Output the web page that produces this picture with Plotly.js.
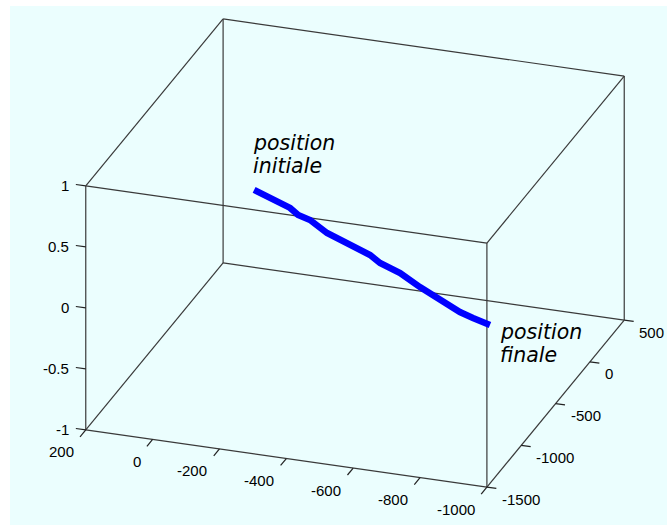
<!DOCTYPE html>
<html>
<head>
<meta charset="utf-8">
<script src="https://cdn.plot.ly/plotly-3.0.1.min.js"></script>
<style>
html,body{margin:0;padding:0;background:#ffffff;}
#chart{width:667px;height:525px;}
</style>
</head>
<body>
<div id="chart"></div>
<script>
// ---- data: trajectory in the z = 0 plane ----
const trajX = [9, -51, -87, -127, -164, -207, -281, -357, -445, -489, -565, -649, -731, -811, -859, -920];
const trajY = [22, -40, -67, -116, -179, -215, -328, -405, -499, -569, -646, -766, -875, -973, -1017, -1066];
const trajZ = [0, 0, 0, 0, 0, 0, 0, 0, 0, 0, 0, 0, 0, 0, 0, 0];

// ---- axes ----
const xRange = [-1000, 200];
const yRange = [-1500, 500];
const zRange = [-1, 1];
const xTicks = [200, 0, -200, -400, -600, -800, -1000];
const yTicks = [500, 0, -500, -1000, -1500];
const zTicks = [-1, -0.5, 0, 0.5, 1];

const labelStart = ['position', 'initiale'];
const labelEnd = ['position', 'finale'];

// ---- 3D view (orthographic, MATLAB-like view(az, el), x axis reversed) ----
const view = {az: 18.9, el: 24.6};
const box = {x: 1, y: 1, z: 0.633};
const ca = Math.cos(view.az * Math.PI / 180), sa = Math.sin(view.az * Math.PI / 180);
const ce = Math.cos(view.el * Math.PI / 180), se = Math.sin(view.el * Math.PI / 180);
function norm(v, r, s) { return ((v - (r[0] + r[1]) / 2) / (r[1] - r[0])) * s; }
function proj(x, y, z) {
  const nx = -norm(x, xRange, box.x);   // reversed x direction
  const ny = norm(y, yRange, box.y);
  const nz = norm(z, zRange, box.z);
  return [nx * ca + ny * sa, -nx * sa * se + ny * ca * se + nz * ce];
}
function projLine(xs, ys, zs) {
  const u = [], v = [];
  for (let i = 0; i < xs.length; i++) {
    if (xs[i] === null) { u.push(null); v.push(null); continue; }
    const p = proj(xs[i], ys[i], zs[i]); u.push(p[0]); v.push(p[1]);
  }
  return [u, v];
}

// box edges
const bx = [], by = [], bz = [];
function edge(p, q) { bx.push(p[0], q[0], null); by.push(p[1], q[1], null); bz.push(p[2], q[2], null); }
for (const y of yRange) for (const z of zRange) edge([xRange[0], y, z], [xRange[1], y, z]);
for (const x of xRange) for (const z of zRange) edge([x, yRange[0], z], [x, yRange[1], z]);
for (const x of xRange) for (const y of yRange) edge([x, y, zRange[0]], [x, y, zRange[1]]);

// ticks (pointing outward from the box)
const tx = [], ty = [], tz = [];
const xTickLen = 0.0417 * (yRange[1] - yRange[0]);
const yTickLen = 0.0235 * (xRange[1] - xRange[0]);
const zTickLen = 0.0247 * (xRange[1] - xRange[0]);
for (const t of xTicks) { tx.push(t, t, null); ty.push(yRange[0], yRange[0] - xTickLen, null); tz.push(zRange[0], zRange[0], null); }
for (const t of yTicks) { tx.push(xRange[0], xRange[0] - yTickLen, null); ty.push(t, t, null); tz.push(zRange[0], zRange[0], null); }
for (const t of zTicks) { tx.push(xRange[1], xRange[1] + zTickLen, null); ty.push(yRange[0], yRange[0], null); tz.push(t, t, null); }

const boxP = projLine(bx, by, bz);
const tickP = projLine(tx, ty, tz);
const trajP = projLine(trajX, trajY, trajZ);

const traces = [
  {type: 'scatter', mode: 'lines', x: boxP[0], y: boxP[1], line: {color: '#3a3a3a', width: 1.2}, hoverinfo: 'skip', connectgaps: false},
  {type: 'scatter', mode: 'lines', x: tickP[0], y: tickP[1], line: {color: '#222222', width: 1.2}, hoverinfo: 'skip', connectgaps: false},
  {type: 'scatter', mode: 'lines', x: trajP[0], y: trajP[1], line: {color: '#0000ff', width: 6.5}, hoverinfo: 'skip'}
];

// annotations: tick labels
const tickFont = {family: 'Liberation Sans, Arial, sans-serif', size: 15, color: '#000000'};
const ann = [];
for (const t of xTicks) {
  const p = proj(t, yRange[0], zRange[0]);
  ann.push({x: p[0], y: p[1], text: String(t), showarrow: false, xanchor: 'right', yanchor: 'middle', xshift: -10, yshift: -22, font: tickFont});
}
for (const t of yTicks) {
  const p = proj(xRange[0], t, zRange[0]);
  ann.push({x: p[0], y: p[1], text: String(t), showarrow: false, xanchor: 'left', yanchor: 'middle', xshift: 13, yshift: -12, font: tickFont});
}
for (const t of zTicks) {
  const p = proj(xRange[1], yRange[0], t);
  ann.push({x: p[0], y: p[1], text: String(t), showarrow: false, xanchor: 'right', yanchor: 'middle', xshift: -15, yshift: 0, font: tickFont});
}
// text labels at start / end of trajectory
const labFont = {family: 'DejaVu Sans', size: 20.5, color: '#000000'};
const n = trajX.length;
const ps = proj(trajX[0], trajY[0], trajZ[0]);
const pe = proj(trajX[n - 1], trajY[n - 1], trajZ[n - 1]);
ann.push({x: ps[0], y: ps[1], text: '<i>' + labelStart[0] + '</i>', showarrow: false, xanchor: 'left', yanchor: 'middle', xshift: -3, yshift: 47, font: labFont});
ann.push({x: ps[0], y: ps[1], text: '<i>' + labelStart[1] + '</i>', showarrow: false, xanchor: 'left', yanchor: 'middle', xshift: -3, yshift: 24, font: labFont});
ann.push({x: pe[0], y: pe[1], text: '<i>' + labelEnd[0] + '</i>', showarrow: false, xanchor: 'left', yanchor: 'middle', xshift: 8, yshift: -7, font: labFont});
ann.push({x: pe[0], y: pe[1], text: '<i>' + labelEnd[1] + '</i>', showarrow: false, xanchor: 'left', yanchor: 'middle', xshift: 8, yshift: -30, font: labFont});

const W = 667, H = 525, S = 424, cx = 355, cy = 253;
const layout = {
  width: W, height: H,
  margin: {l: 0, r: 0, t: 0, b: 0},
  paper_bgcolor: '#ffffff', plot_bgcolor: 'rgba(0,0,0,0)',
  showlegend: false,
  xaxis: {range: [-cx / S, (W - cx) / S], visible: false, fixedrange: true},
  yaxis: {range: [(cy - H) / S, cy / S], visible: false, fixedrange: true},
  shapes: [{type: 'rect', xref: 'paper', yref: 'paper', x0: 10 / W, x1: 1, y0: 0, y1: 1 - 6 / H,
            fillcolor: '#ebfefe', line: {width: 0}, layer: 'below'}],
  annotations: ann
};

Plotly.newPlot('chart', traces, layout, {displayModeBar: false, staticPlot: true});
</script>
</body>
</html>
